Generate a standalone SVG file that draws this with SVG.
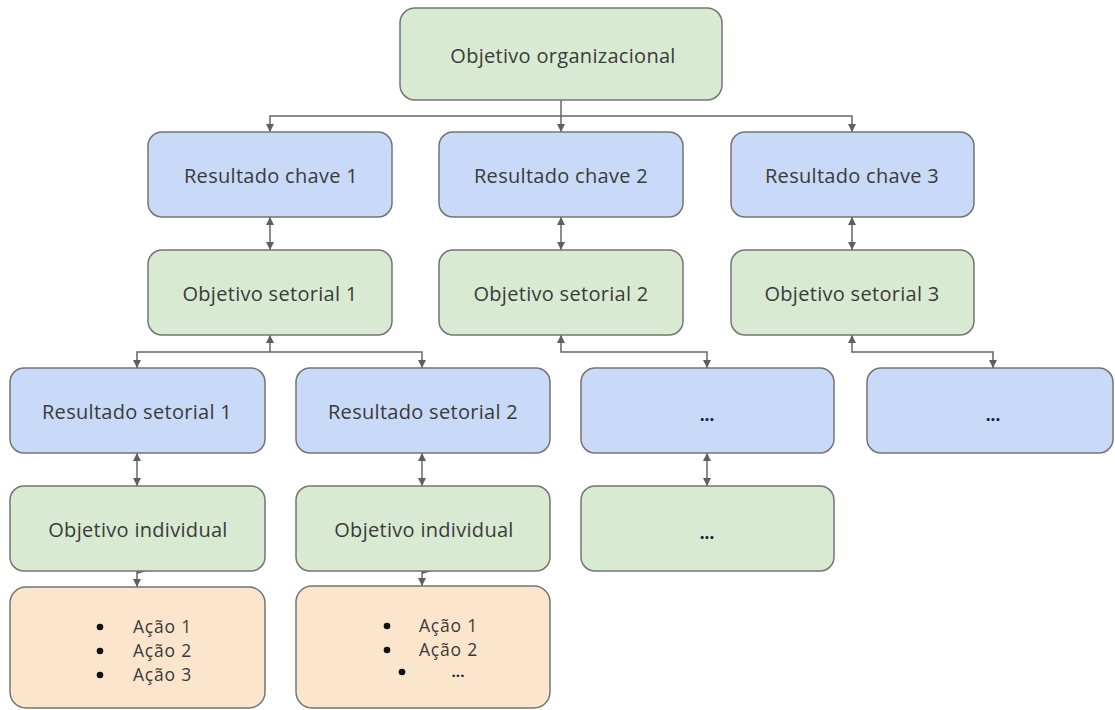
<svg xmlns="http://www.w3.org/2000/svg" width="1115" height="710" viewBox="0 0 1115 710">
  <style>
    .box { stroke: #747474; stroke-width: 1.5; }
    .green { fill: #d9ead3; }
    .blue { fill: #c9daf8; }
    .orange { fill: #fce5cd; }
    .lbl { font-family: "Open Sans", "Liberation Sans", sans-serif; font-size: 20px; letter-spacing: 0.3px; fill: #3a3a3a; text-anchor: middle; }
    .item { font-family: "Open Sans", "Liberation Sans", sans-serif; font-size: 17.5px; letter-spacing: 0.8px; fill: #3a3a3a; }
    .dots { font-family: "Open Sans", "Liberation Sans", sans-serif; font-size: 17px; font-weight: bold; fill: #1c1c3a; text-anchor: middle; }
    .dots-sm { font-family: "Open Sans", "Liberation Sans", sans-serif; font-size: 15px; font-weight: bold; fill: #1c1c3a; text-anchor: middle; }
    .conn { fill: none; stroke: #666666; stroke-width: 1.5; }
  </style>
  <defs>
    <marker id="arrow" viewBox="0 0 8 8" refX="8" refY="4" markerWidth="8" markerHeight="8" markerUnits="userSpaceOnUse" orient="auto-start-reverse">
      <path d="M0,0 L8,4 L0,8 z" fill="#5f5f5f"/>
    </marker>
    <marker id="flag" viewBox="0 0 10 6" refX="0" refY="3" markerWidth="10" markerHeight="6" markerUnits="userSpaceOnUse" orient="0">
      <path d="M0,0 L10,3 L0,6 z" fill="#5f5f5f"/>
    </marker>
  </defs>

  <g id="connectors">
    <!-- top level fan-out -->
    <path class="conn" d="M561,100 V116"/>
    <path class="conn" d="M270,132 V116 H852 V132" marker-start="url(#arrow)" marker-end="url(#arrow)"/>
    <path class="conn" d="M561,116 V132" marker-end="url(#arrow)"/>
    <!-- key result <-> sector objective -->
    <path class="conn" d="M270,217 V250" marker-start="url(#arrow)" marker-end="url(#arrow)"/>
    <path class="conn" d="M561,217 V250" marker-start="url(#arrow)" marker-end="url(#arrow)"/>
    <path class="conn" d="M852,217 V250" marker-start="url(#arrow)" marker-end="url(#arrow)"/>
    <!-- sector objective 1 -->
    <path class="conn" d="M270,352 V335" marker-end="url(#arrow)"/>
    <path class="conn" d="M137,368 V352 H422 V368" marker-start="url(#arrow)" marker-end="url(#arrow)"/>
    <!-- sector objective 2 -->
    <path class="conn" d="M561,335 V352 H707 V368" marker-start="url(#arrow)" marker-end="url(#arrow)"/>
    <!-- sector objective 3 -->
    <path class="conn" d="M852,335 V352 H993 V368" marker-start="url(#arrow)" marker-end="url(#arrow)"/>
    <!-- sector result <-> individual objective -->
    <path class="conn" d="M137,453 V486" marker-start="url(#arrow)" marker-end="url(#arrow)"/>
    <path class="conn" d="M422,453 V486" marker-start="url(#arrow)" marker-end="url(#arrow)"/>
    <path class="conn" d="M707,453 V486" marker-start="url(#arrow)" marker-end="url(#arrow)"/>
    <!-- individual objective -> actions -->
    <path class="conn" d="M137,571 V587" marker-start="url(#flag)" marker-end="url(#arrow)"/>
    <path class="conn" d="M422,571 V586" marker-start="url(#flag)" marker-end="url(#arrow)"/>
  </g>

  <g id="obj-org">
    <rect class="box green" x="400" y="8" width="322" height="92" rx="15"/>
    <text class="lbl" x="563" y="63">Objetivo organizacional</text>
  </g>

  <g id="kr-1">
    <rect class="box blue" x="148" y="132" width="244" height="85" rx="14"/>
    <text class="lbl" x="271" y="183">Resultado chave 1</text>
  </g>
  <g id="kr-2">
    <rect class="box blue" x="439" y="132" width="244" height="85" rx="14"/>
    <text class="lbl" x="561" y="183">Resultado chave 2</text>
  </g>
  <g id="kr-3">
    <rect class="box blue" x="731" y="132" width="243" height="85" rx="14"/>
    <text class="lbl" x="852" y="183">Resultado chave 3</text>
  </g>

  <g id="obj-set-1">
    <rect class="box green" x="148" y="250" width="244" height="85" rx="14"/>
    <text class="lbl" x="270" y="301">Objetivo setorial 1</text>
  </g>
  <g id="obj-set-2">
    <rect class="box green" x="439" y="250" width="244" height="85" rx="14"/>
    <text class="lbl" x="561" y="301">Objetivo setorial 2</text>
  </g>
  <g id="obj-set-3">
    <rect class="box green" x="731" y="250" width="243" height="85" rx="14"/>
    <text class="lbl" x="852" y="301">Objetivo setorial 3</text>
  </g>

  <g id="res-set-1">
    <rect class="box blue" x="10" y="368" width="255" height="85" rx="14"/>
    <text class="lbl" x="137" y="419">Resultado setorial 1</text>
  </g>
  <g id="res-set-2">
    <rect class="box blue" x="296" y="368" width="254" height="85" rx="14"/>
    <text class="lbl" x="423" y="419">Resultado setorial 2</text>
  </g>
  <g id="res-set-3">
    <rect class="box blue" x="581" y="368" width="253" height="85" rx="14"/>
    <text class="dots" x="707" y="421">...</text>
  </g>
  <g id="res-set-4">
    <rect class="box blue" x="867" y="368" width="246" height="85" rx="14"/>
    <text class="dots" x="993" y="421">...</text>
  </g>

  <g id="obj-ind-1">
    <rect class="box green" x="10" y="486" width="255" height="85" rx="14"/>
    <text class="lbl" x="138" y="537">Objetivo individual</text>
  </g>
  <g id="obj-ind-2">
    <rect class="box green" x="296" y="486" width="254" height="85" rx="14"/>
    <text class="lbl" x="424" y="537">Objetivo individual</text>
  </g>
  <g id="obj-ind-3">
    <rect class="box green" x="581" y="486" width="253" height="85" rx="14"/>
    <text class="dots" x="707" y="539">...</text>
  </g>

  <g id="acoes-1">
    <rect class="box orange" x="10" y="587" width="255" height="121" rx="16"/>
    <circle cx="100" cy="627" r="3.3" fill="#111"/>
    <circle cx="100" cy="651" r="3.3" fill="#111"/>
    <circle cx="100" cy="675" r="3.3" fill="#111"/>
    <text class="item" x="133" y="633">Ação 1</text>
    <text class="item" x="133" y="657">Ação 2</text>
    <text class="item" x="133" y="681">Ação 3</text>
  </g>
  <g id="acoes-2">
    <rect class="box orange" x="296" y="586" width="254" height="122" rx="16"/>
    <circle cx="387" cy="626" r="3.3" fill="#111"/>
    <circle cx="387" cy="650" r="3.3" fill="#111"/>
    <circle cx="402" cy="672" r="3.3" fill="#111"/>
    <text class="item" x="419" y="632">Ação 1</text>
    <text class="item" x="419" y="656">Ação 2</text>
    <text class="dots-sm" x="458" y="677">...</text>
  </g>
</svg>
